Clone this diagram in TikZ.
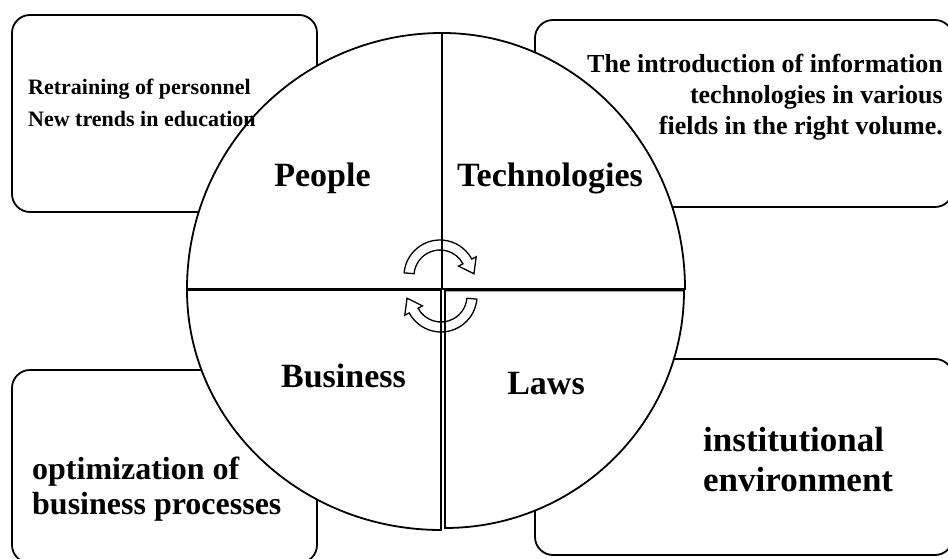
\documentclass[tikz,border=0pt]{standalone}
\usepackage{fontspec}
\setmainfont{Liberation Serif}

\tikzset{
  infobox/.style={draw, line width=1.8pt, rounded corners=18pt},
  quarter/.style={draw, fill=white, line width=1.8pt},
  quadlabel/.style={font=\fontsize{34}{40}\selectfont\bfseries, anchor=base, inner sep=0pt},
  boxtext/.style={inner sep=0pt},
  turnarrow/.style={draw, line width=1.3pt, line join=miter}
}

\begin{document}
\begin{tikzpicture}[x=1pt,y=1pt]
  \useasboundingbox (0,0) rectangle (948,559);
  \clip (0,0) rectangle (948,559);

  % the four boxes behind the disc
  \draw[infobox] (12,347) rectangle (317,544);
  \draw[infobox] (535,352) rectangle (953,539);
  \draw[infobox] (12,-4) rectangle (317,189);
  \draw[infobox] (535,4) rectangle (953,200);

  % the disc, one quarter at a time
  \draw[quarter] (442,270) -- (187,270)
      arc[start angle=180, end angle=90, x radius=255, y radius=256] -- cycle;
  \draw[quarter] (442,270) -- (442,526)
      arc[start angle=90, end angle=0, x radius=243, y radius=256] -- cycle;
  \draw[quarter] (445,268.5) -- (684,268.5)
      arc[start angle=0, end angle=-90, x radius=239, y radius=237.5] -- cycle;
  \draw[quarter] (441,269) -- (441,29)
      arc[start angle=-90, end angle=-180, x radius=254, y radius=240] -- cycle;

  % turning arrows in the middle
  \draw[turnarrow, shift={(440,283)}]
      (175:36) arc[start angle=175, end angle=28, radius=36]
      -- (28:41) -- (3.7:34) -- (28:21) -- (28:26)
      arc[start angle=28, end angle=175, radius=26] -- cycle;
  \draw[turnarrow, shift={(441,263)}]
      (-5:36) arc[start angle=-5, end angle=-152, radius=36]
      -- (-152:41) -- (-176.3:34) -- (-152:21) -- (-152:26)
      arc[start angle=-152, end angle=-5, radius=26] -- cycle;

  % quarter names
  \node[quadlabel] (people) at (322.5,372) {People};
  \node[quadlabel] (tech) at (550,372) {Technologies};
  \node[quadlabel] (business) at (343.5,171) {Business};
  \node[quadlabel] (laws) at (546,164) {Laws};

  % box texts (base = last line)
  \node[boxtext, anchor=base west, align=left,
        font=\fontsize{22}{32}\selectfont\bfseries] (staff) at (28,432)
      {Retraining of personnel\\New trends in education};
  \node[boxtext, anchor=base east, align=right,
        font=\fontsize{26}{31}\selectfont\bfseries] (itintro) at (943,424)
      {The introduction of information\\technologies in various\\fields in the right volume.};
  \node[boxtext, anchor=base west, align=left,
        font=\fontsize{32}{35}\selectfont\bfseries] (optim) at (32,44)
      {optimization of\\business processes};
  \node[boxtext, anchor=base west, align=left,
        font=\fontsize{35}{40}\selectfont\bfseries] (inst) at (703,67)
      {institutional\\environment};
\end{tikzpicture}
\end{document}
